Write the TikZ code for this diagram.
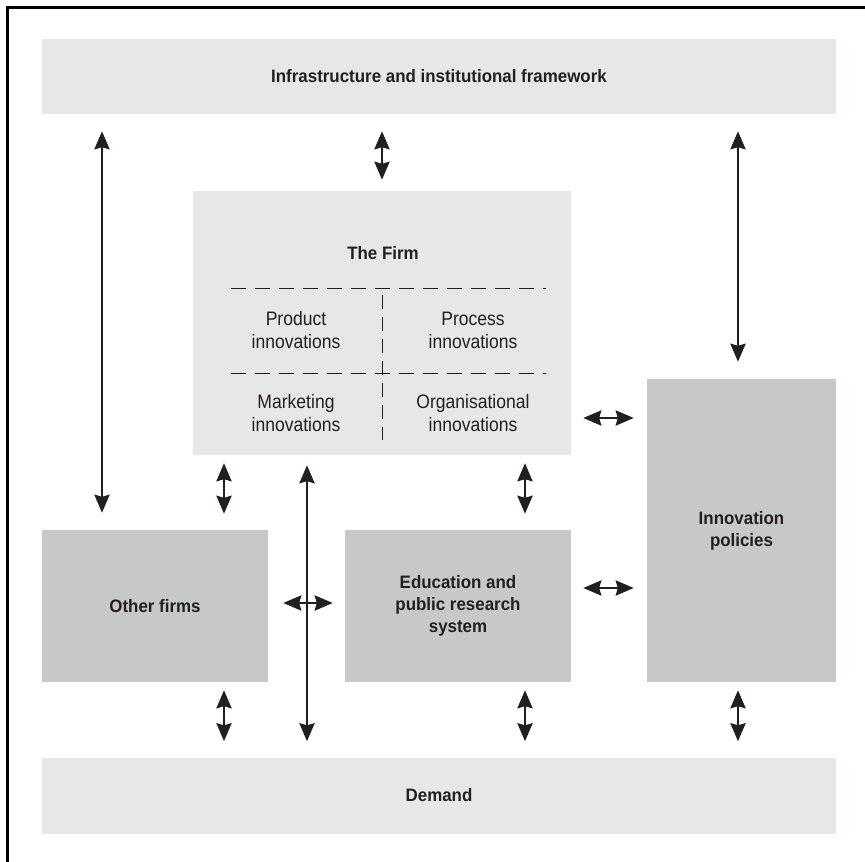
\documentclass[tikz,border=0pt]{standalone}
\usepackage{fontspec}
\setmainfont{Liberation Sans}[FakeStretch=0.9, BoldFeatures={FakeStretch=0.94}]
\usetikzlibrary{arrows.meta}
\definecolor{lightbox}{HTML}{E6E7E8}
\definecolor{darkbox}{HTML}{C7C8CA}
\definecolor{ink}{HTML}{231F20}
\tikzset{
  box/.style={draw=none, inner sep=0pt, align=center, text=ink, font=\bfseries\fontsize{18}{22}\selectfont},
  lbox/.style={box, fill=lightbox},
  dbox/.style={box, fill=darkbox},
  inner/.style={inner sep=0pt, align=center, text=ink, font=\fontsize{19.5}{23}\selectfont},
  dbl/.style={draw=ink, line width=2.8pt, {Stealth[length=18pt,width=15pt,inset=2pt]}-{Stealth[length=18pt,width=15pt,inset=2pt]}},
  dashline/.style={draw=ink, line width=1pt, dash pattern=on 15pt off 9pt},
}
\begin{document}
\begin{tikzpicture}[x=1pt,y=-1pt]
\useasboundingbox (0,0) rectangle (865,862);
\draw[line width=3pt, black] (7.5,862) -- (7.5,7.5) -- (865,7.5);
% boxes
\node[lbox, minimum width=794pt, minimum height=75pt] (top) at (439,76.5) {Infrastructure and institutional framework};
\node[lbox, minimum width=378pt, minimum height=264pt] (firm) at (382,323) {};
\node[dbox, minimum width=226pt, minimum height=152pt] (other) at (155,606) {Other firms};
\node[dbox, minimum width=226pt, minimum height=152pt] (edu) at (458,606) {Education and\\public research\\system};
\node[dbox, minimum width=189pt, minimum height=303pt] (pol) at (741.5,530.5) {Innovation\\policies};
\node[lbox, minimum width=794pt, minimum height=76pt] (demand) at (439,795.5) {Demand};
% firm contents
\node[box] (firmtitle) at (383,253) {The Firm};
\node[inner] (prod) at (296,330) {Product\\innovations};
\node[inner] (proc) at (473,330) {Process\\innovations};
\node[inner] (mark) at (296,413) {Marketing\\innovations};
\node[inner] (org) at (473,413) {Organisational\\innovations};
\coordinate (h1l) at (231,288);
\coordinate (h1r) at (546,288);
\coordinate (h2l) at (231,373);
\coordinate (h2r) at (546,373);
\coordinate (vt) at (382,295);
\coordinate (vb) at (382,440);
\draw[dashline] (h1l) -- (h1r);
\draw[dashline] (h2l) -- (h2r);
\draw[draw=ink, line width=1pt, dash pattern=on 14pt off 8pt] (vt) -- (vb);
% column / row guides
\coordinate (xL) at (102,0);
\coordinate (xA) at (224,0);
\coordinate (xM) at (307,0);
\coordinate (xB) at (525,0);
\coordinate (xP) at (738,0);
\coordinate (yF) at (0,418);
\coordinate (yE) at (0,588);
\coordinate (yX) at (0,603);
% arrows
\draw[dbl] ([yshift=-17pt]top.south -| xL) -- ([yshift=17pt]other.north -| xL);
\draw[dbl] ([yshift=-17pt]top.south -| firm.north) -- ([yshift=11pt]firm.north);
\draw[dbl] ([yshift=-17pt]top.south -| xP) -- ([yshift=17pt]pol.north -| xP);
\draw[dbl] ([yshift=-8pt]firm.south -| xA) -- ([yshift=16pt]other.north -| xA);
\draw[dbl] ([yshift=-10pt]firm.south -| xM) -- ([yshift=16pt]demand.north -| xM);
\draw[dbl] ([xshift=15pt]other.east |- yX) -- ([xshift=-12pt]edu.west |- yX);
\draw[dbl] ([yshift=-8pt]firm.south -| xB) -- ([yshift=16pt]edu.north -| xB);
\draw[dbl] ([xshift=12pt]firm.east |- yF) -- ([xshift=-13pt]pol.west |- yF);
\draw[dbl] ([xshift=12pt]edu.east |- yE) -- ([xshift=-13pt]pol.west |- yE);
\draw[dbl] ([yshift=-8pt]other.south -| xA) -- ([yshift=16pt]demand.north -| xA);
\draw[dbl] ([yshift=-8pt]edu.south -| xB) -- ([yshift=16pt]demand.north -| xB);
\draw[dbl] ([yshift=-8pt]pol.south -| xP) -- ([yshift=16pt]demand.north -| xP);
\end{tikzpicture}
\end{document}
